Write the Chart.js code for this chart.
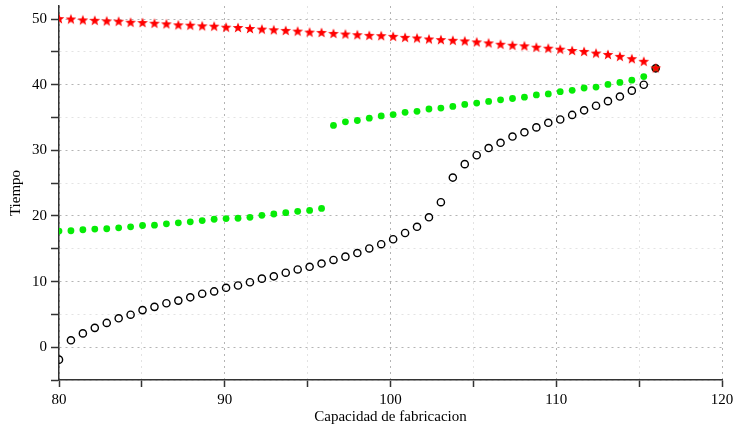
<!DOCTYPE html>
<html>
<head>
<meta charset="utf-8">
<script src="https://cdn.jsdelivr.net/npm/chart.js@4/dist/chart.umd.min.js"></script>
<style>
  html, body { margin: 0; padding: 0; background: #fff; }
  canvas { display: block; }
</style>
</head>
<body>
<canvas id="chart" width="733" height="434"></canvas>
<script>
// capacity values shared by all three series
const capacidad = [80.0, 80.72, 81.44, 82.16, 82.88, 83.6, 84.32, 85.04, 85.76, 86.48,
  87.2, 87.92, 88.64, 89.36, 90.08, 90.8, 91.52, 92.24, 92.96, 93.68,
  94.4, 95.12, 95.84, 96.56, 97.28, 98.0, 98.72, 99.44, 100.16, 100.88,
  101.6, 102.32, 103.04, 103.76, 104.48, 105.2, 105.92, 106.64, 107.36, 108.08,
  108.8, 109.52, 110.24, 110.96, 111.68, 112.4, 113.12, 113.84, 114.56, 115.28, 116.0];

// red stars
const tiempoRojo = [50.0, 49.95, 49.8, 49.75, 49.65, 49.6, 49.45, 49.4, 49.3, 49.2,
  49.05, 49.0, 48.9, 48.85, 48.7, 48.65, 48.5, 48.4, 48.3, 48.2,
  48.1, 47.95, 47.9, 47.75, 47.65, 47.55, 47.45, 47.4, 47.3, 47.15,
  47.05, 46.9, 46.8, 46.7, 46.6, 46.45, 46.3, 46.1, 45.95, 45.85,
  45.65, 45.5, 45.35, 45.15, 45.0, 44.75, 44.55, 44.25, 43.9, 43.5, 42.5];

// green dots (two branches, jump near 96)
const tiempoVerde = [17.7, 17.75, 17.9, 18.0, 18.05, 18.2, 18.35, 18.55, 18.6, 18.8,
  18.95, 19.1, 19.3, 19.5, 19.6, 19.65, 19.8, 20.1, 20.3, 20.5,
  20.7, 20.85, 21.15, 33.8, 34.35, 34.55, 34.9, 35.25, 35.45, 35.8,
  35.95, 36.3, 36.45, 36.7, 37.0, 37.2, 37.45, 37.7, 37.9, 38.1,
  38.45, 38.6, 38.95, 39.15, 39.5, 39.65, 40.05, 40.35, 40.7, 41.25, 42.5];

// black open circles
const tiempoNegro = [-1.9, 1.05, 2.1, 2.95, 3.7, 4.4, 4.95, 5.65, 6.15, 6.7,
  7.1, 7.6, 8.15, 8.5, 9.05, 9.4, 9.9, 10.45, 10.8, 11.35,
  11.85, 12.25, 12.75, 13.3, 13.8, 14.35, 15.05, 15.7, 16.45, 17.4,
  18.35, 19.8, 22.1, 25.85, 27.9, 29.25, 30.35, 31.15, 32.1, 32.75,
  33.5, 34.2, 34.7, 35.4, 36.1, 36.8, 37.5, 38.2, 39.1, 40.0, 42.5];

const xTicks = [80, 90, 100, 110, 120];
const yTicks = [0, 10, 20, 30, 40, 50];

const serif = 'Liberation Serif';

function makeStar(r, color) {
  const c = document.createElement('canvas');
  const s = Math.ceil(r * 2) + 2;
  c.width = c.height = s;
  const g = c.getContext('2d');
  g.fillStyle = color;
  g.beginPath();
  for (let k = 0; k < 10; k++) {
    const rad = k % 2 ? r * 0.42 : r;
    const a = -Math.PI / 2 + k * Math.PI / 5;
    g.lineTo(s / 2 + rad * Math.cos(a), s / 2 + rad * Math.sin(a));
  }
  g.closePath();
  g.fill();
  return c;
}

const pts = ys => capacidad.map((x, i) => ({ x: x, y: ys[i] }));

function fixSize(w, h) {
  return function (scale) {
    if (w) scale.width = w;
    if (h) scale.height = h;
    scale.paddingTop = 0;
    scale.paddingBottom = 0;
    scale.paddingLeft = 0;
    scale.paddingRight = 0;
  };
}

const gridColor = ctx => (ctx.tick && ctx.tick.value % 10 === 0) ? '#b4b4b4' : '#e3e3e3';

new Chart(document.getElementById('chart').getContext('2d'), {
  type: 'scatter',
  data: {
    datasets: [
      {
        data: pts(tiempoRojo),
        pointStyle: makeStar(5.6, '#ff0000'),
        pointRadius: 5
      },
      {
        data: pts(tiempoNegro),
        pointStyle: 'circle',
        pointRadius: 3.6,
        backgroundColor: 'rgba(0,0,0,0)',
        borderColor: '#000',
        borderWidth: 1.4
      },
      {
        data: pts(tiempoVerde),
        pointStyle: 'circle',
        pointRadius: 3.4,
        backgroundColor: '#06ec06',
        borderWidth: 0
      }
    ]
  },
  options: {
    responsive: false,
    animation: false,
    events: [],
    layout: { padding: { top: 4, right: 11, left: 0, bottom: 0 } },
    plugins: { legend: { display: false }, tooltip: { enabled: false } },
    scales: {
      x: {
        type: 'linear',
        min: 80,
        max: 120,
        afterFit: fixSize(0, 54),
        ticks: {
          stepSize: 5,
          autoSkip: false,
          maxRotation: 0,
          padding: 4,
          color: '#000',
          font: { family: serif, size: 15 },
          callback: v => xTicks.includes(v) ? String(v) : ''
        },
        grid: { color: gridColor, lineWidth: 1, tickColor: '#333', tickLength: 7, tickWidth: 1.5 },
        border: { color: '#333', width: 1.5, dash: [2, 4] },
        title: {
          display: true,
          text: 'Capacidad de fabricacion',
          color: '#000',
          font: { family: serif, size: 15 },
          padding: { top: 0, bottom: 8 }
        }
      },
      y: {
        type: 'linear',
        min: -5,
        max: 52,
        afterFit: fixSize(59, 0),
        ticks: {
          stepSize: 5,
          includeBounds: false,
          autoSkip: false,
          padding: 4,
          color: '#000',
          font: { family: serif, size: 15 },
          callback: v => yTicks.includes(v) ? String(v) : ''
        },
        grid: { color: gridColor, lineWidth: 1, tickColor: '#333', tickLength: 8, tickWidth: 1.5 },
        border: { color: '#333', width: 1.5, dash: [2, 4] },
        title: {
          display: true,
          text: 'Tiempo',
          color: '#000',
          font: { family: serif, size: 15 },
          padding: { top: 7, bottom: 0 }
        }
      }
    }
  }
});
</script>
</body>
</html>
